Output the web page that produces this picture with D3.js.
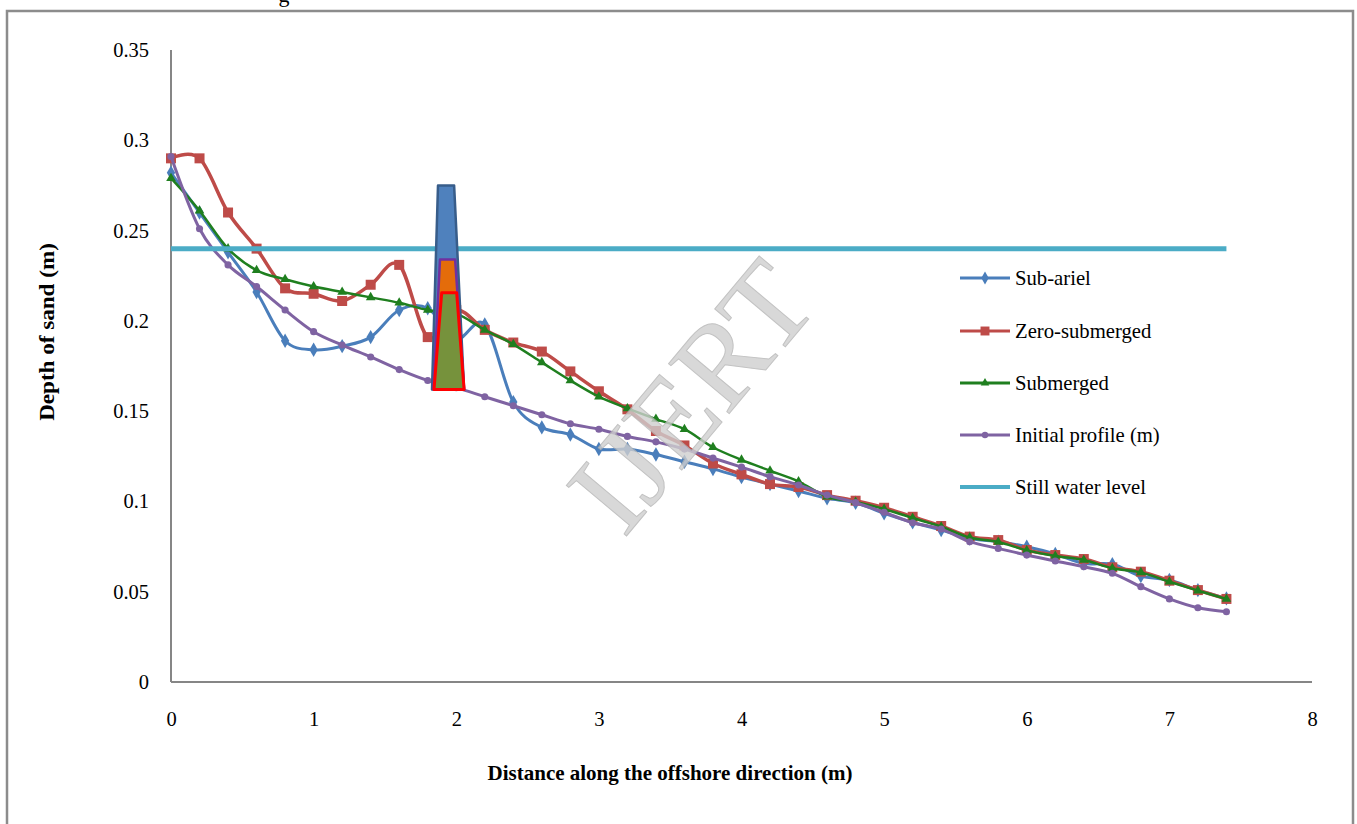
<!DOCTYPE html>
<html lang="en">
<head>
<meta charset="utf-8">
<title>Depth of sand profile</title>
<style>
body { margin: 0; background: #fff; }
svg text { font-family: "Liberation Serif", "Times New Roman", serif; fill: #000; }
.tick text { font-size: 20.5px; }
.axis-title { font-size: 21px; font-weight: bold; }
.legend text { font-size: 20.7px; }
</style>
</head>
<body>
<div id="chart"></div>
<script src="https://d3js.org/d3.v7.min.js"></script>
<script>
// distances along the offshore direction (m)
var distance = [0, 0.2, 0.4, 0.6, 0.8, 1, 1.2, 1.4, 1.6, 1.8, 2, 2.2, 2.4, 2.6, 2.8, 3, 3.2, 3.4, 3.6, 3.8,
  4, 4.2, 4.4, 4.6, 4.8, 5, 5.2, 5.4, 5.6, 5.8, 6, 6.2, 6.4, 6.6, 6.8, 7, 7.2, 7.4];

var subAriel = [0.282, 0.260, 0.238, 0.216, 0.189, 0.184, 0.186, 0.191, 0.206, 0.207, 0.190, 0.198, 0.155, 0.141,
  0.137, 0.129, 0.129, 0.126, 0.122, 0.118, 0.1135, 0.1096, 0.1058, 0.1017, 0.0993, 0.0934, 0.0884, 0.0842,
  0.0795, 0.0777, 0.0749, 0.0709, 0.0657, 0.0652, 0.0587, 0.0565, 0.0509, 0.0463];

var zeroSubmerged = [0.290, 0.290, 0.260, 0.240, 0.218, 0.215, 0.211, 0.220, 0.231, 0.191, 0.206, 0.195, 0.188, 0.183,
  0.172, 0.161, 0.151, 0.139, 0.131, 0.121, 0.115, 0.1096, 0.108, 0.1035, 0.1004, 0.0965, 0.0915, 0.0864,
  0.0805, 0.0786, 0.0731, 0.0703, 0.0681, 0.0635, 0.0611, 0.0561, 0.0509, 0.046];

var submerged = [0.279, 0.261, 0.240, 0.228, 0.223, 0.219, 0.216, 0.213, 0.210, 0.206, 0.204, 0.195, 0.187, 0.177,
  0.167, 0.158, 0.1515, 0.1456, 0.140, 0.130, 0.123, 0.117, 0.111, 0.1026, 0.0997, 0.0958, 0.0908, 0.086,
  0.080, 0.0775, 0.0729, 0.0698, 0.0676, 0.063, 0.0607, 0.0555, 0.0506, 0.046];

var initialProfile = [0.291, 0.251, 0.231, 0.219, 0.206, 0.194, 0.1866, 0.180, 0.173, 0.167, 0.163, 0.158, 0.153, 0.148,
  0.143, 0.140, 0.136, 0.133, 0.129, 0.124, 0.119, 0.1137, 0.1091, 0.1035, 0.0993, 0.094, 0.0882, 0.0847,
  0.0777, 0.074, 0.0703, 0.067, 0.0638, 0.0602, 0.0528, 0.046, 0.0411, 0.0389];

var stillWater = [0.24, 0.24];
var stillWaterX = [0, 7.4];

var xTicks = [0, 1, 2, 3, 4, 5, 6, 7, 8];
var yTicks = [0, 0.05, 0.1, 0.15, 0.2, 0.25, 0.3, 0.35];

// breakwater sketch corners (x in m, y in m): outer, middle, inner
var structX = [[1.830, 1.872, 1.985, 2.055], [1.840, 1.886, 1.992, 2.055], [1.844, 1.898, 2.003, 2.055]];
var structY = [[0.162, 0.275, 0.275, 0.162], [0.162, 0.234, 0.234, 0.162], [0.162, 0.2155, 0.2155, 0.162]];

var names = ['Sub-ariel', 'Zero-submerged', 'Submerged', 'Initial profile (m)', 'Still water level'];

var W = 1357, H = 824;
var svg = d3.select('#chart').append('svg')
  .attr('width', W).attr('height', H);

// outer frame (bottom is cut off)
svg.append('path')
  .attr('d', 'M7,824 V11 H1353 V824')
  .attr('fill', 'none')
  .attr('stroke', '#8c8c8c')
  .attr('stroke-width', 2.5);

// remnant of the caption above
svg.append('text').attr('x', 284).attr('y', 2).attr('text-anchor', 'middle')
  .style('font-size', '22px').text('g');

var x = d3.scaleLinear().domain([0, 8]).range([171, 1312]);
var y = d3.scaleLinear().domain([0, 0.35]).range([682, 50]);

var xAxis = svg.append('g')
  .attr('transform', 'translate(0,682)')
  .call(d3.axisBottom(x).tickValues(xTicks).tickSize(0).tickPadding(29).tickFormat(d3.format('d')));
var yAxis = svg.append('g')
  .attr('transform', 'translate(171,0)')
  .call(d3.axisLeft(y).tickValues(yTicks).tickSize(0).tickPadding(22).tickFormat(function(d) { return d3.format('~g')(d); }));
[xAxis, yAxis].forEach(function(a) {
  a.select('.domain').attr('stroke', '#868686').attr('stroke-width', 2);
  a.selectAll('.tick text').attr('font-family', null).attr('font-size', null);
});
yAxis.select('.domain').attr('d', 'M0,' + y(0.35) + 'V682');
xAxis.select('.domain').attr('d', 'M171,0H1312');

svg.append('text').attr('class', 'axis-title')
  .attr('x', 670).attr('y', 780).attr('text-anchor', 'middle')
  .text('Distance along the offshore direction (m)');
svg.append('text').attr('class', 'axis-title')
  .attr('transform', 'translate(54,332) rotate(-90) scale(1.1,1)').attr('text-anchor', 'middle')
  .text('Depth of sand (m)');

var series = [
  { name: names[0], vals: subAriel, color: '#4a7ebb', width: 3, sym: d3.symbolDiamond, size: 60 },
  { name: names[1], vals: zeroSubmerged, color: '#be4b48', width: 3.5, sym: d3.symbolSquare, size: 100 },
  { name: names[2], vals: submerged, color: '#1f7f1f', width: 2.5, sym: d3.symbolTriangle, size: 40 },
  { name: names[3], vals: initialProfile, color: '#7f63a2', width: 3, sym: d3.symbolCircle, size: 40 }
];

var line = d3.line()
  .x(function(d) { return x(d[0]); })
  .y(function(d) { return y(d[1]); })
  .curve(d3.curveCardinal.tension(0));

series.forEach(function(s) {
  var pts = distance.map(function(dx, i) { return [dx, s.vals[i]]; });
  var g = svg.append('g');
  g.append('path').datum(pts)
    .attr('d', line)
    .attr('fill', 'none')
    .attr('stroke', s.color)
    .attr('stroke-width', s.width)
    .attr('stroke-linejoin', 'round');
  g.selectAll('path.m').data(pts).enter().append('path')
    .attr('class', 'm')
    .attr('d', d3.symbol().type(s.sym).size(s.size))
    .attr('transform', function(d) { return 'translate(' + x(d[0]) + ',' + y(d[1]) + ')'; })
    .attr('fill', s.color);
});

// still water level
svg.append('path')
  .datum(stillWaterX.map(function(dx, i) { return [dx, stillWater[i]]; }))
  .attr('d', line)
  .attr('stroke', '#4bacc6')
  .attr('stroke-width', 5)
  .attr('fill', 'none');

// breakwater sketch
var structStyle = [
  { fill: '#4f81bd', stroke: '#385d8a', w: 2.5 },
  { fill: '#e46c0a', stroke: '#7030a0', w: 2.5 },
  { fill: '#76923c', stroke: '#ff0000', w: 3 }
];
structX.forEach(function(xs, k) {
  var pts = xs.map(function(v, i) { return [x(v), y(structY[k][i])]; });
  svg.append('polygon')
    .attr('points', pts.map(function(p) { return p.join(','); }).join(' '))
    .attr('fill', structStyle[k].fill)
    .attr('stroke', structStyle[k].stroke)
    .attr('stroke-width', structStyle[k].w)
    .attr('stroke-linejoin', 'round');
});

// legend
var legendColors = ['#4a7ebb', '#be4b48', '#1f7f1f', '#7f63a2', '#4bacc6'];
var legendY = [278, 331, 383, 435, 487];
var legend = svg.append('g').attr('class', 'legend');
names.forEach(function(n, i) {
  var row = legend.append('g').attr('transform', 'translate(0,' + legendY[i] + ')');
  row.append('line').attr('x1', 960).attr('x2', 1010)
    .attr('stroke', legendColors[i]).attr('stroke-width', i === 4 ? 4 : 3);
  if (i < 4) {
    row.append('path')
      .attr('d', d3.symbol().type(series[i].sym).size(series[i].size * 0.8))
      .attr('transform', 'translate(985,0)')
      .attr('fill', legendColors[i]);
  }
  row.append('text').attr('x', 1015).attr('y', 7).text(n);
});

// watermark
svg.append('text')
  .attr('transform', 'translate(690,395) rotate(-50)')
  .attr('text-anchor', 'middle')
  .attr('dy', '0.35em')
  .style('font-size', '120px')
  .style('fill', '#cfcfcf')
  .style('stroke', '#b4b4b4')
  .style('stroke-width', 1)
  .style('opacity', 0.8)
  .text('IJERT');
</script>
</body>
</html>
